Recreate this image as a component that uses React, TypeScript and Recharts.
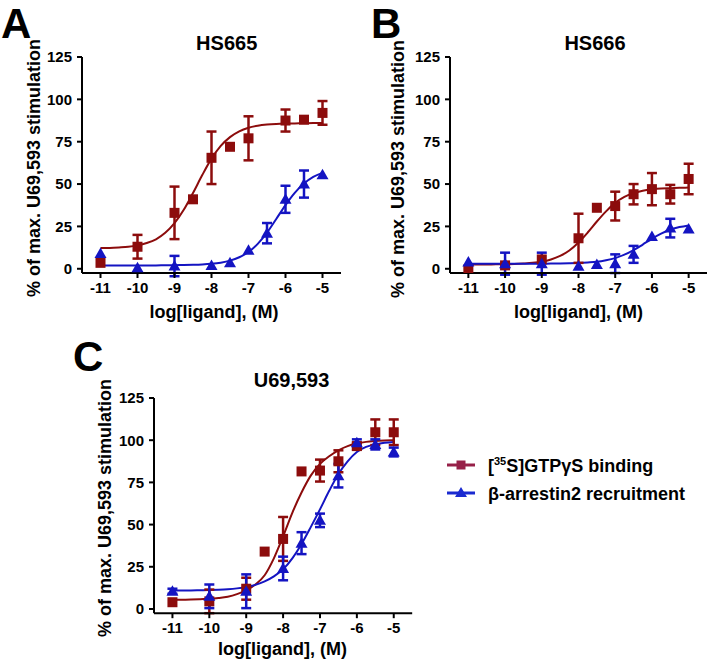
import { ComposedChart, Line, Scatter, ErrorBar, XAxis, YAxis } from 'recharts';

const FONT = '"Liberation Sans", Arial, Helvetica, sans-serif';
const RED = '#8c0c0c';
const BLUE = '#1414c2';
const LEGEND_RED = '#962048';
const LEGEND_BLUE = '#1a2ad0';

const xTicks = [-11, -10, -9, -8, -7, -6, -5];
const yTicks = [0, 25, 50, 75, 100, 125];

// x positions of the fitted curves (log M)
const fitLogs = [-11, -10.75, -10.5, -10.25, -10, -9.75, -9.5, -9.25, -9, -8.75, -8.5, -8.25, -8, -7.75, -7.5, -7.25, -7, -6.75, -6.5, -6.25, -6, -5.75, -5.5, -5.25, -5];

// A - HS665
const hs665GtpLogs = [-11, -10, -9, -8.5, -8, -7.5, -7, -6, -5.5, -5];
const hs665GtpVals = [3.5, 13, 33, 41, 65.5, 72, 77, 87.5, 88, 92];
const hs665GtpErrs = [0, 7, 15.5, 0, 15.5, 0, 13, 6.5, 0, 7];
const hs665ArrLogs = [-11, -10, -9, -8, -7.5, -7, -6.5, -6, -5.5, -5];
const hs665ArrVals = [9, 0.6, 1.6, 2, 3.5, 11, 21, 41, 50, 55.5];
const hs665ArrErrs = [0, 0, 6, 0, 0, 0, 6, 8, 8, 0];
const hs665GtpFit = [12.2, 12.3, 12.6, 13, 13.8, 15.2, 17.4, 21.2, 26.9, 34.8, 44.7, 55.3, 65, 72.5, 77.7, 81.1, 83.2, 84.4, 85.1, 85.5, 85.7, 85.8, 85.9, 86, 86];
const hs665ArrFit = [2, 2, 2, 2, 2, 2, 2, 2.05, 2.1, 2.2, 2.3, 2.5, 2.9, 3.6, 4.8, 6.8, 9.9, 14.7, 21.3, 29.4, 37.6, 44.8, 50.3, 54.2, 56.6];

// B - HS666
const hs666GtpLogs = [-11, -10, -9, -8, -7.5, -7, -6.5, -6, -5.5, -5];
const hs666GtpVals = [-0.4, 2, 5.5, 18, 36, 37, 44, 47, 44, 53];
const hs666GtpErrs = [0, 0, 0, 14.5, 0, 8.5, 6, 9.5, 5.5, 9];
const hs666ArrLogs = [-11, -10, -9, -8, -7.5, -7, -6.5, -6, -5.5, -5];
const hs666ArrVals = [4, 3, 3, 1.5, 2.5, 3, 8.5, 19, 24, 23.5];
const hs666ArrErrs = [0, 6.5, 6.5, 0, 0, 5.5, 5, 0, 5.5, 0];
const hs666GtpFit = [2.5, 2.5, 2.56, 2.6, 2.7, 2.8, 3.1, 3.5, 4.2, 5.5, 7.6, 10.8, 15.5, 21.4, 27.9, 33.9, 38.9, 42.4, 44.7, 46.1, 46.9, 47.4, 47.6, 47.8, 47.9];
const hs666ArrFit = [3, 3, 3, 3, 3, 3, 3, 3, 3, 3.05, 3.1, 3.2, 3.4, 3.7, 4.1, 5, 6.3, 8.3, 11, 14.3, 17.7, 20.7, 23, 24.6, 25.6];

// C - U69,593
const u69GtpLogs = [-11, -10, -9, -8.5, -8, -7.5, -7, -6.5, -6, -5.5, -5];
const u69GtpVals = [4, 4.5, 12, 34, 41.5, 81.5, 82, 87.5, 96.5, 104.7, 104.7];
const u69GtpErrs = [0, 7, 6.5, 0, 13, 0, 6.5, 6.5, 2, 7.6, 7.6];
const u69ArrLogs = [-11, -10, -9, -8, -7.5, -7, -6.5, -6, -5.5, -5];
const u69ArrVals = [10.5, 7.5, 10.5, 24, 39, 52.5, 79, 98.5, 97.5, 93];
const u69ArrErrs = [1.5, 7, 10, 7, 6.5, 4, 7, 2, 3, 2.6];
const u69GtpFit = [5.5, 5.5, 5.6, 5.8, 6, 6.5, 7.3, 8.8, 11, 14.5, 20, 30, 43, 57, 69, 79, 86, 90.5, 94, 96.5, 98, 99, 99.5, 99.8, 100];
const u69ArrFit = [11, 11, 11, 11.1, 11.2, 11.4, 11.7, 12.2, 13, 14.3, 16.3, 19.3, 23.5, 30, 38.5, 48.5, 59, 70, 80, 87.5, 93, 96, 97.5, 98.5, 99];

const toPts = (logs: number[], vals: number[], errs: number[]) =>
  logs.map((x, i) => ({ x, y: vals[i], err: errs[i] }));
const toFit = (vals: number[]) => fitLogs.map((x, i) => ({ x, y: vals[i] }));

const Square = (props: any) => {
  const { cx, cy } = props;
  return <rect x={cx - 5} y={cy - 5} width={10} height={10} fill={RED} />;
};

const Triangle = (props: any) => {
  const { cx, cy } = props;
  return <polygon points={`${cx},${cy - 6} ${cx + 6},${cy + 4.5} ${cx - 6},${cy + 4.5}`} fill={BLUE} />;
};

const tickStyle = { fill: '#000', fontSize: 15, fontWeight: 'bold' as const, fontFamily: FONT };

interface PanelProps {
  left: number;
  top: number;
  width: number;
  height: number;
  rightMargin: number;
  gtpPts: { x: number; y: number; err: number }[];
  arrPts: { x: number; y: number; err: number }[];
  gtpFit: { x: number; y: number }[];
  arrFit: { x: number; y: number }[];
}

function Panel({ left, top, width, height, rightMargin, gtpPts, arrPts, gtpFit, arrFit }: PanelProps) {
  return (
    <div style={{ position: 'absolute', left, top }}>
      <ComposedChart width={width} height={height} margin={{ top: 10, right: rightMargin, left: 10, bottom: 0 }}>
        <XAxis
          type="number"
          dataKey="x"
          domain={[-11.5, -4.5]}
          ticks={xTicks}
          allowDataOverflow
          height={30}
          tickSize={5}
          tickMargin={4}
          tick={tickStyle}
          axisLine={{ stroke: '#000', strokeWidth: 2 }}
          tickLine={{ stroke: '#000', strokeWidth: 2 }}
        />
        <YAxis
          type="number"
          domain={[-2.5, 125]}
          ticks={yTicks}
          allowDataOverflow
          width={50}
          tickSize={5}
          tickMargin={5}
          tick={tickStyle}
          axisLine={{ stroke: '#000', strokeWidth: 2 }}
          tickLine={{ stroke: '#000', strokeWidth: 2 }}
        />
        <Line data={gtpFit} dataKey="y" type="monotone" stroke={RED} strokeWidth={2} dot={false} isAnimationActive={false} />
        <Line data={arrFit} dataKey="y" type="monotone" stroke={BLUE} strokeWidth={2} dot={false} isAnimationActive={false} />
        <Scatter data={gtpPts} dataKey="y" shape={Square} isAnimationActive={false}>
          <ErrorBar dataKey="err" direction="y" width={5} stroke={RED} strokeWidth={2.5} />
        </Scatter>
        <Scatter data={arrPts} dataKey="y" shape={Triangle} isAnimationActive={false}>
          <ErrorBar dataKey="err" direction="y" width={5} stroke={BLUE} strokeWidth={2.5} />
        </Scatter>
      </ComposedChart>
    </div>
  );
}

const yLabel = '% of max. U69,593 stimulation';
const xLabel = 'log[ligand], (M)';

export default function App() {
  const txt = { fontFamily: FONT, fontWeight: 'bold' as const, fill: '#000' };
  return (
    <div style={{ position: 'absolute', left: 0, top: 0, width: 709, height: 665, background: '#fff', overflow: 'hidden' }}>
      <Panel
        left={22} top={47} width={327} height={256} rightMargin={8}
        gtpPts={toPts(hs665GtpLogs, hs665GtpVals, hs665GtpErrs)}
        arrPts={toPts(hs665ArrLogs, hs665ArrVals, hs665ArrErrs)}
        gtpFit={toFit(hs665GtpFit)}
        arrFit={toFit(hs665ArrFit)}
      />
      <Panel
        left={389.6} top={47} width={319} height={256} rightMargin={2}
        gtpPts={toPts(hs666GtpLogs, hs666GtpVals, hs666GtpErrs)}
        arrPts={toPts(hs666ArrLogs, hs666ArrVals, hs666ArrErrs)}
        gtpFit={toFit(hs666GtpFit)}
        arrFit={toFit(hs666ArrFit)}
      />
      <Panel
        left={93.6} top={388} width={326.2} height={255.2} rightMargin={8}
        gtpPts={toPts(u69GtpLogs, u69GtpVals, u69GtpErrs)}
        arrPts={toPts(u69ArrLogs, u69ArrVals, u69ArrErrs)}
        gtpFit={toFit(u69GtpFit)}
        arrFit={toFit(u69ArrFit)}
      />
      <svg width={709} height={665} style={{ position: 'absolute', left: 0, top: 0, pointerEvents: 'none' }}>
        {/* panel letters */}
        <text x={1} y={38} fontSize={42} {...txt}>A</text>
        <text x={371} y={38} fontSize={42} {...txt}>B</text>
        <text x={73} y={371} fontSize={42} {...txt}>C</text>

        {/* titles */}
        <text x={226.7} y={49.5} fontSize={20} textAnchor="middle" {...txt}>HS665</text>
        <text x={595} y={49.5} fontSize={20} textAnchor="middle" {...txt}>HS666</text>
        <text x={291.5} y={386.7} fontSize={20} textAnchor="middle" {...txt}>U69,593</text>

        {/* x labels */}
        <text x={214} y={318} fontSize={18} textAnchor="middle" {...txt}>{xLabel}</text>
        <text x={578.5} y={318} fontSize={18} textAnchor="middle" {...txt}>{xLabel}</text>
        <text x={282.5} y={655} fontSize={18} textAnchor="middle" {...txt}>{xLabel}</text>

        {/* y labels */}
        <text transform="translate(40,168) rotate(-90)" fontSize={18} textAnchor="middle" {...txt}>{yLabel}</text>
        <text transform="translate(404,169) rotate(-90)" fontSize={18} textAnchor="middle" {...txt}>{yLabel}</text>
        <text transform="translate(111,508) rotate(-90)" fontSize={18} textAnchor="middle" {...txt}>{yLabel}</text>

        {/* legend */}
        <line x1={447} y1={465} x2={475} y2={465} stroke={LEGEND_RED} strokeWidth={3} />
        <rect x={456.5} y={460.5} width={9} height={9} fill={LEGEND_RED} />
        <text x={488} y={471.5} fontSize={18} {...txt}>
          [<tspan fontSize={11} dy={-7}>35</tspan><tspan dy={7}>S]GTPγS binding</tspan>
        </text>
        <line x1={447} y1={493} x2={475} y2={493} stroke={LEGEND_BLUE} strokeWidth={3} />
        <polygon points="461,487 467,497 455,497" fill={LEGEND_BLUE} />
        <text x={488} y={499.5} fontSize={18} {...txt}>β-arrestin2 recruitment</text>
      </svg>
    </div>
  );
}
